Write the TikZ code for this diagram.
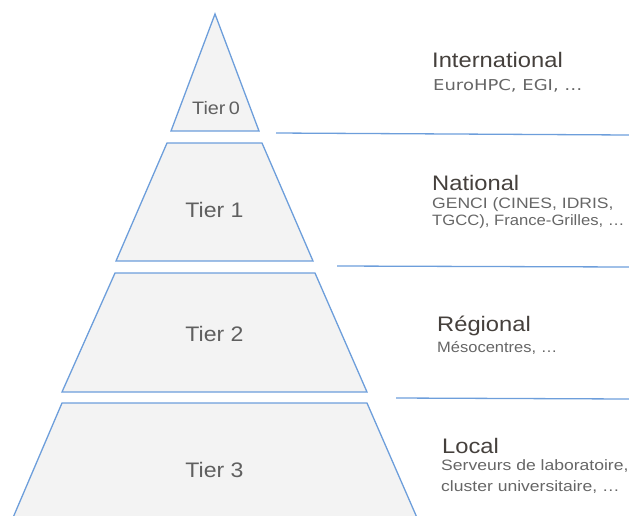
\documentclass[tikz,border=0pt]{standalone}
\usepackage{fontspec}
\setmainfont{Liberation Sans}
\newfontfamily\wideface{DejaVu Sans}
\definecolor{edge}{HTML}{6D9EDB}
\definecolor{fillg}{HTML}{F3F3F3}
\definecolor{head}{HTML}{45403C}
\definecolor{sub}{HTML}{666666}
\definecolor{tier}{HTML}{5F5F5F}
\newcommand{\wideh}[1]{\scalebox{1.13}[1]{#1}}
\newcommand{\widet}[1]{\scalebox{1.1}[1]{#1}}
\newcommand{\wides}[2][1.17]{\scalebox{#1}[1]{#2}}
\tikzset{
  level/.style={draw=edge, fill=fillg, line width=1.3pt, line join=miter},
  sep/.style={draw=edge, line width=1.3pt},
  tierlbl/.style={text=tier, font=\fontsize{21}{24}\selectfont, inner sep=0pt, anchor=base},
  headlbl/.style={text=head, font=\fontsize{21}{24}\selectfont, inner sep=0pt, anchor=base west},
  sublbl/.style={text=sub, font=\fontsize{15}{17}\selectfont, inner sep=0pt, anchor=base west},
}
\begin{document}
\begin{tikzpicture}[x=1pt, y=-1pt]
\useasboundingbox (0,0) rectangle (629,515);
% pyramid levels
\draw[level] (215,14) -- (259,131) -- (171,131) -- cycle;
\draw[level] (167,143) -- (262,143) -- (313,261) -- (116,261) -- cycle;
\draw[level] (115,273) -- (315,273) -- (367,392) -- (62,392) -- cycle;
\draw[level] (62,403) -- (367,403) -- (418,520) -- (12,520) -- cycle;
% tier labels
\node[tierlbl, font=\fontsize{18}{21}\selectfont] (t0) at (216,114) {\widet{Tier\,0}};
\node[tierlbl] (t1) at (214.5,217) {\widet{Tier 1}};
\node[tierlbl] (t2) at (214.5,341) {\widet{Tier 2}};
\node[tierlbl] (t3) at (214.5,477) {\widet{Tier 3}};
% separators
\coordinate (s1a) at (276,133); \coordinate (s1b) at (629,135);
\coordinate (s2a) at (337,266); \coordinate (s2b) at (629,267);
\coordinate (s3a) at (396,398); \coordinate (s3b) at (629,399);
\draw[sep] (s1a) -- (s1b);
\draw[sep] (s2a) -- (s2b);
\draw[sep] (s3a) -- (s3b);
% right labels
\node[headlbl] (h0) at (432,67) {\wideh{International}};
\node[sublbl, font=\wideface\fontsize{15}{17}\selectfont] (d0) at (433,90) {\scalebox{1.2}[1]{EuroHPC, EGI, \dots}};
\node[headlbl] (h1) at (432,190) {\wideh{National}};
\node[sublbl] (d1) at (432,208) {\wides{GENCI (CINES, IDRIS,}};
\node[sublbl] (d1b) at (432,225) {\wides[1.11]{TGCC), France-Grilles, \dots}};
\node[headlbl] (h2) at (437,331) {\wideh{Régional}};
\node[sublbl] (d2) at (437,352) {\wides[1.1]{Mésocentres, \dots}};
\node[headlbl] (h3) at (442,453) {\wideh{Local}};
\node[sublbl] (d3) at (441,470) {\wides{Serveurs de laboratoire,}};
\node[sublbl] (d3b) at (441,491) {\wides{cluster universitaire, \dots}};
\end{tikzpicture}
\end{document}
